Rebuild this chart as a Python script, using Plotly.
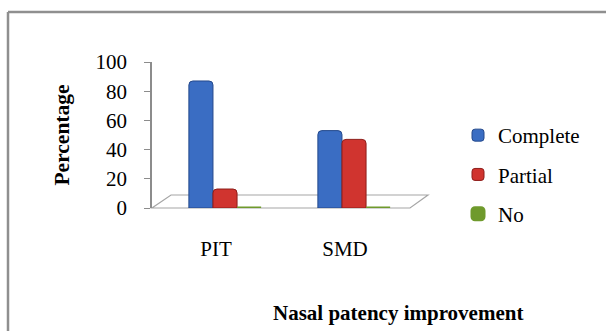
import plotly.graph_objects as go

# Nasal patency improvement by technique (percent of patients)
categories = ["PIT", "SMD"]
complete = [87, 53]
partial = [13, 47]
no_improvement = [0, 0]
y_ticks = [0, 20, 40, 60, 80, 100]

FONT = "Liberation Serif, Times New Roman, serif"

# plot-area pixel box, used to place decorative shapes and text
W, H = 606, 331
L, R, T, B = 152, 410, 62, 208


def px_x(px):
    return (px - L) / (R - L)


def px_y(py):
    return (B - py) / (B - T)


fig = go.Figure()
series = [
    ("Complete", complete, "#3a6dc3", "#24498c"),
    ("Partial", partial, "#d0342f", "#8e1d1a"),
    ("No", no_improvement, "#6f9a2c", "#4d6e1a"),
]
for name, vals, fill, edge in series:
    fig.add_trace(go.Bar(
        x=categories, y=vals, name=name, legendgroup=name,
        marker=dict(color=fill, line=dict(color=edge if max(vals) > 0 else fill,
                                          width=1 if max(vals) > 0 else 3)),
    ))

shapes = [
    # floor of the plot
    dict(type="path", xref="paper", yref="paper",
         path=f"M {px_x(152)},{px_y(208)} L {px_x(410)},{px_y(208)} "
              f"L {px_x(428)},{px_y(195)} L {px_x(171)},{px_y(195)} Z",
         line=dict(color="#a6a6a6", width=1.2), fillcolor="rgba(0,0,0,0)", layer="below"),
    # outer frame (top and left edges)
    dict(type="line", xref="paper", yref="paper",
         x0=px_x(8), x1=px_x(W + 5), y0=px_y(12), y1=px_y(12),
         line=dict(color="#8f8f8f", width=2.5)),
    dict(type="line", xref="paper", yref="paper",
         x0=px_x(8), x1=px_x(8), y0=px_y(12), y1=px_y(H + 5),
         line=dict(color="#8f8f8f", width=2.5)),
]

fig.update_layout(
    width=W, height=H,
    margin=dict(l=L, r=W - R, t=T, b=H - B),
    paper_bgcolor="white", plot_bgcolor="rgba(0,0,0,0)",
    barmode="group", bargap=0.44, bargroupgap=0,
    barcornerradius=4,
    font=dict(family=FONT, size=17, color="black"),
    showlegend=True,
    legend=dict(x=px_x(458), y=px_y(115), xanchor="left", yanchor="top",
                tracegroupgap=9, font=dict(size=21, family=FONT),
                bgcolor="rgba(0,0,0,0)"),
    shapes=shapes,
    annotations=[dict(text="<b>Nasal patency improvement</b>", xref="paper", yref="paper",
                      x=px_x(398), y=px_y(313), xanchor="center", yanchor="middle",
                      showarrow=False, font=dict(size=21, family=FONT))],
)
fig.update_xaxes(range=[-0.566, 1.434], showline=False, ticks="", showgrid=False,
                 zeroline=False, ticklabelshift=-9, ticklabelstandoff=26,
                 tickfont=dict(size=21))
fig.update_yaxes(range=[0, 100], tickvals=y_ticks, showgrid=False, zeroline=False,
                 showline=True, linecolor="#8c8c8c", linewidth=1.5,
                 ticks="outside", ticklen=6, tickcolor="#8c8c8c",
                 ticklabelstandoff=13, tickfont=dict(size=21),
                 title=dict(text="<b>Percentage</b>", standoff=20, font=dict(size=21.5)))

fig.write_html("out.html")
